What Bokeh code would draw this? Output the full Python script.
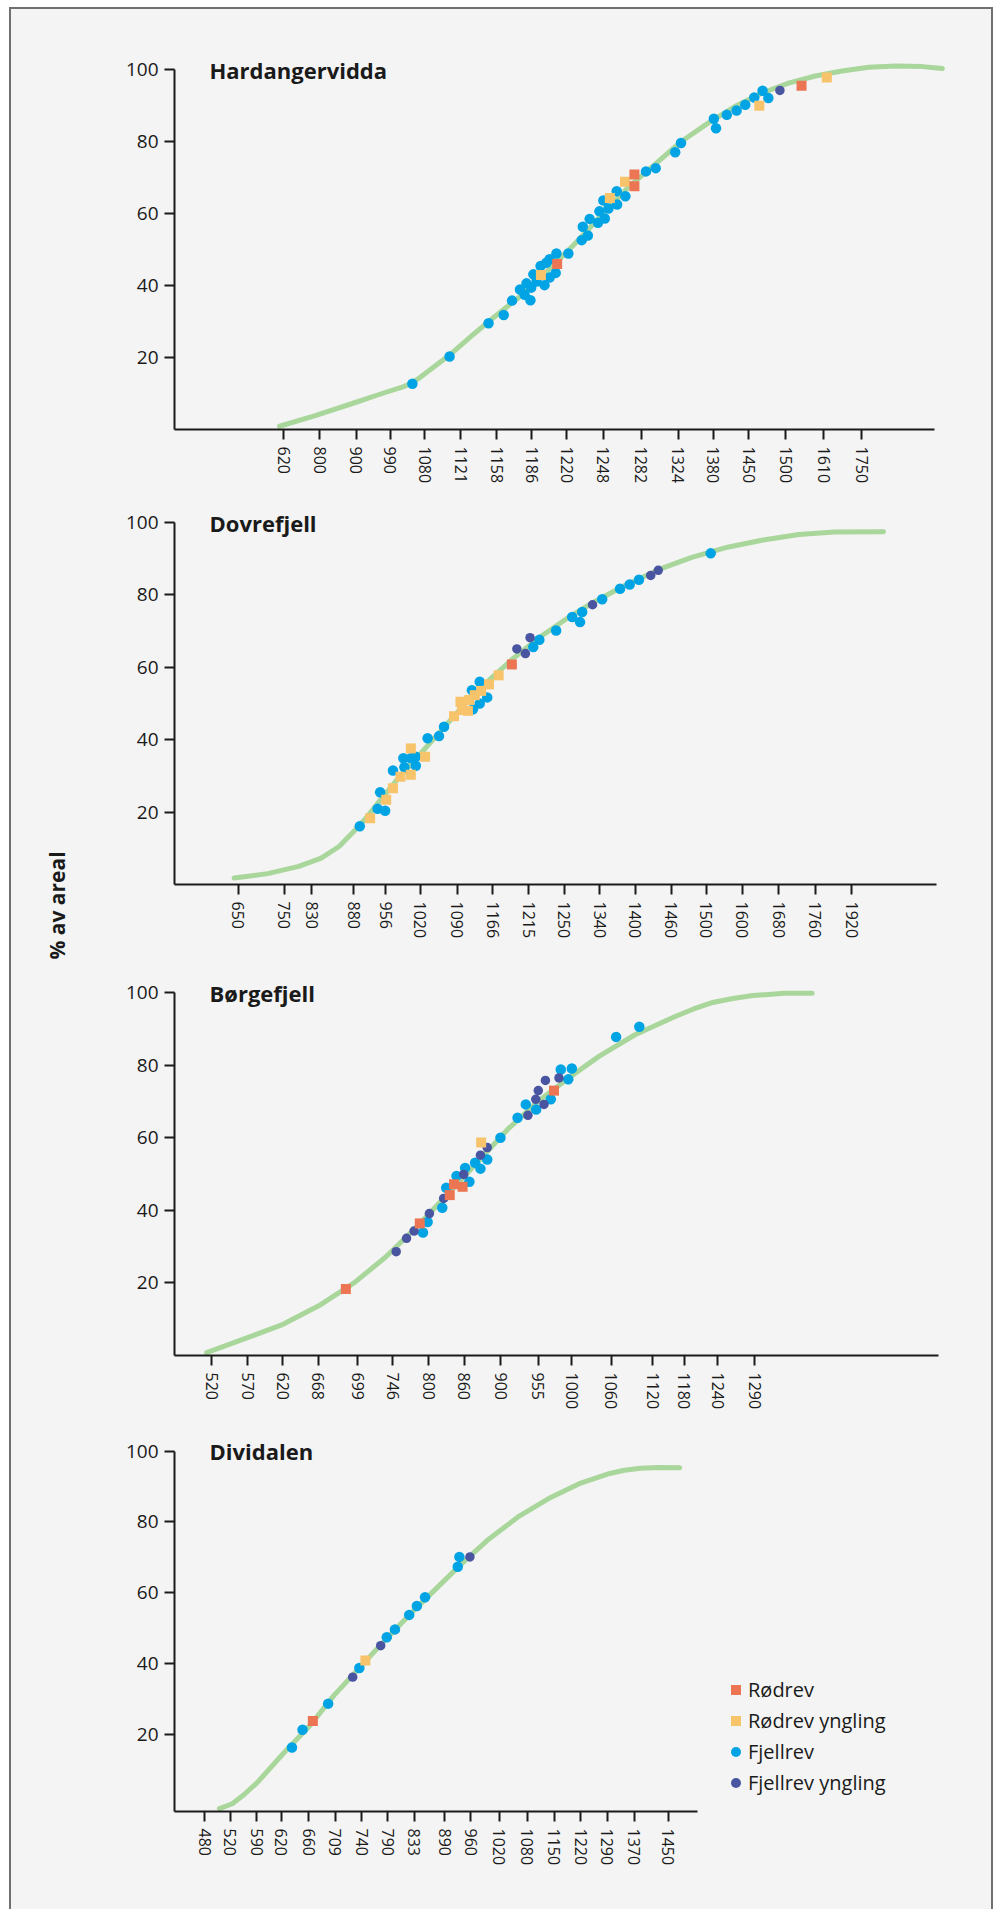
import math
from bokeh.plotting import figure
from bokeh.models import Range1d, FixedTicker, Label, Legend, LegendItem, Spacer
from bokeh.layouts import row, column
from bokeh.embed import file_html
from bokeh.resources import INLINE
from bokeh.core.properties import value

# ---------------- data ----------------
# x values are positions along each panel's (non-linear) altitude axis, in tick-slot units
series_names = ["Rødrev", "Rødrev yngling", "Fjellrev", "Fjellrev yngling"]

# Hardangervidda
hard_ticks = [0, 0.99, 2.0, 2.945, 3.9, 4.9, 5.89, 6.87, 7.84, 8.85, 9.9, 10.92, 11.9, 12.88, 13.9, 14.95, 16.01]
hard_labels = ["620", "800", "900", "990", "1080", "1121", "1158", "1186", "1220", "1248", "1282", "1324",
               "1380", "1450", "1500", "1610", "1750"]
hard_curve_x = [-0.12, 0.87, 1.98, 2.72, 3.34, 3.54, 3.75, 3.96, 4.58, 5.2, 5.81, 6.56, 7.3, 8.04, 8.78, 9.52,
                10.27, 11.01, 11.75, 12.49, 13.23, 13.98, 14.72, 15.46, 16.2, 16.94, 17.69, 18.24]
hard_curve_y = [0.9, 3.85, 7.5, 10.0, 12.0, 12.9, 14.3, 15.9, 20.6, 26.0, 31.1, 37.1, 44.0, 51.4, 59.3, 67.1,
                73.6, 80.0, 85.1, 89.7, 93.4, 96.2, 98.2, 99.6, 100.6, 101.0, 100.8, 100.3]
hard_fjell_x = [3.56, 4.59, 5.67, 6.09, 6.32, 6.54, 6.67, 6.72, 6.83, 6.85, 6.91, 7.0, 7.11, 7.22, 7.27, 7.36,
                7.36, 7.53, 7.55, 7.88, 8.25, 8.28, 8.42, 8.47, 8.7, 8.74, 8.89, 8.85, 8.99, 9.23, 9.22, 9.46,
                10.03, 10.3, 10.84, 11.0, 11.91, 11.97, 12.27, 12.54, 12.78, 13.03, 13.26, 13.42]
hard_fjell_y = [12.7, 20.3, 29.5, 31.8, 35.8, 38.9, 37.4, 40.6, 35.9, 39.4, 43.1, 41.1, 45.4, 40.1, 46.3, 47.3,
                42.2, 43.5, 48.9, 48.9, 52.6, 56.3, 53.9, 58.5, 57.4, 60.6, 58.6, 63.6, 61.4, 62.5, 66.2, 64.8,
                71.7, 72.6, 77.0, 79.6, 86.3, 83.7, 87.4, 88.6, 90.2, 92.2, 94.1, 92.1]
hard_fjellyng_x = [13.74]
hard_fjellyng_y = [94.2]
hard_rod_x = [7.57, 9.71, 9.71, 14.34]
hard_rod_y = [46.0, 70.8, 67.6, 95.5]
hard_rodyng_x = [7.12, 9.03, 9.45, 13.17, 15.04]
hard_rodyng_y = [42.9, 64.3, 68.8, 89.9, 97.8]

# Dovrefjell
dovre_ticks = [0, 1.29, 2.05, 3.23, 4.13, 5.1, 6.13, 7.13, 8.13, 9.13, 10.12, 11.12, 12.12, 13.11, 14.12,
               15.13, 16.16, 17.18]
dovre_labels = ["650", "750", "830", "880", "956", "1020", "1090", "1166", "1215", "1250", "1340", "1400",
                "1460", "1500", "1600", "1680", "1760", "1920"]
dovre_curve_x = [-0.12, 0.82, 1.69, 2.32, 2.82, 3.19, 3.57, 3.94, 4.44, 4.94, 5.44, 5.94, 6.45, 7.07, 7.69,
                 8.45, 9.2, 9.95, 10.82, 11.82, 12.7, 13.7, 14.7, 15.7, 16.7, 18.07]
dovre_curve_y = [1.8, 3.0, 5.0, 7.3, 10.5, 14.2, 18.3, 22.9, 28.9, 34.4, 39.9, 45.4, 51.0, 56.9, 62.4,
                 68.4, 73.5, 78.0, 82.6, 87.2, 90.4, 93.2, 95.2, 96.7, 97.4, 97.5]
dovre_fjell_x = [3.40, 3.9, 4.11, 3.97, 4.33, 4.62, 4.65, 4.83, 4.97, 4.97, 5.3, 5.62, 5.76, 6.54, 6.76, 6.57,
                 6.76, 6.97, 8.26, 8.43, 8.9, 9.35, 9.63, 9.57, 10.19, 10.69, 10.96, 11.22, 13.23]
dovre_fjell_y = [16.1, 20.9, 20.4, 25.5, 31.5, 34.9, 32.4, 34.9, 35.3, 32.8, 40.4, 41.0, 43.6, 53.7, 56.0, 48.4,
                 50.0, 51.7, 65.6, 67.6, 70.2, 73.9, 75.3, 72.5, 78.8, 81.7, 82.9, 84.2, 91.5]
dovre_fjellyng_x = [7.8, 8.04, 8.17, 9.92, 11.55, 11.76]
dovre_fjellyng_y = [65.1, 63.8, 68.2, 77.3, 85.4, 86.8]
dovre_rod_x = [7.66]
dovre_rod_y = [60.8]
dovre_rodyng_x = [3.69, 4.14, 4.33, 4.54, 4.83, 4.83, 5.23, 6.04, 6.22, 6.26, 6.43, 6.47, 6.62, 6.8, 7.02, 7.29]
dovre_rodyng_y = [18.3, 23.4, 26.6, 29.8, 30.3, 37.6, 35.3, 46.5, 50.5, 48.2, 48.0, 51.0, 52.3, 53.5, 55.3, 57.8]

# Børgefjell
borge_ticks = [0, 1.01, 1.99, 2.99, 4.1, 5.08, 6.08, 7.08, 8.1, 9.15, 10.09, 11.19, 12.35, 13.24, 14.18, 15.22]
borge_labels = ["520", "570", "620", "668", "699", "746", "800", "860", "900", "955", "1000", "1060", "1120",
                "1180", "1240", "1290"]
borge_curve_x = [-0.14, 1.14, 2.0, 3.0, 4.0, 4.86, 5.72, 6.57, 7.43, 8.29, 9.15, 10.0, 10.86, 11.86, 13.0,
                 13.5, 14.0, 14.6, 15.16, 16.04, 16.82]
borge_curve_y = [0.8, 5.4, 8.6, 13.7, 20.1, 27.0, 35.2, 44.0, 53.1, 62.3, 70.1, 76.5, 82.5, 88.4, 93.5,
                 95.5, 97.2, 98.4, 99.2, 99.8, 99.8]
borge_fjell_x = [5.92, 6.05, 6.46, 6.57, 6.86, 7.1, 7.22, 7.38, 7.53, 7.72, 8.09, 8.57, 8.8, 9.09, 9.5, 9.78,
                 9.99, 10.09, 11.33, 11.98]
borge_fjell_y = [33.9, 36.8, 40.7, 46.2, 49.5, 51.7, 47.9, 53.1, 51.5, 54.0, 60.0, 65.5, 69.2, 67.8, 70.6, 78.8,
                 76.1, 79.1, 87.8, 90.6]
borge_fjellyng_x = [5.17, 5.46, 5.67, 6.1, 6.5, 7.06, 7.53, 7.72, 8.86, 9.08, 9.15, 9.31, 9.35, 9.73]
borge_fjellyng_y = [28.6, 32.3, 34.3, 39.1, 43.3, 49.9, 55.2, 57.3, 66.2, 70.6, 73.0, 69.2, 75.8, 76.5]
borge_rod_x = [3.76, 5.83, 6.67, 6.79, 7.03, 9.59]
borge_rod_y = [18.3, 36.4, 44.2, 47.2, 46.5, 73.0]
borge_rodyng_x = [7.55]
borge_rodyng_y = [58.7]

# Dividalen
divi_ticks = [0, 0.97, 1.97, 2.9, 3.94, 4.95, 5.95, 6.93, 7.95, 9.09, 10.09, 11.17, 12.22, 13.24, 14.24,
              15.25, 16.27, 17.57]
divi_labels = ["480", "520", "590", "620", "660", "709", "740", "790", "833", "890", "960", "1020", "1080",
               "1150", "1220", "1290", "1370", "1450"]
divi_curve_x = [0.56, 1.05, 1.5, 2.01, 2.98, 4.0, 4.91, 5.9, 6.85, 7.81, 8.78, 9.74, 10.71, 11.87, 13.03, 14.19,
                15.35, 15.9, 16.51, 17.2, 18.0]
divi_curve_y = [-1.1, 0.3, 2.9, 6.4, 14.5, 22.5, 31.0, 39.0, 46.7, 54.1, 61.2, 68.2, 74.8, 81.4, 86.6, 90.8,
                93.7, 94.6, 95.2, 95.4, 95.3]
divi_fjell_x = [3.31, 3.71, 4.68, 5.86, 6.9, 7.21, 7.75, 8.04, 8.35, 9.59, 9.65]
divi_fjell_y = [16.2, 21.2, 28.6, 38.7, 47.4, 49.6, 53.7, 56.2, 58.7, 67.3, 70.1]
divi_fjellyng_x = [5.61, 6.67, 10.05]
divi_fjellyng_y = [36.1, 45.0, 70.1]
divi_rod_x = [4.1]
divi_rod_y = [23.7]
divi_rodyng_x = [6.09]
divi_rodyng_y = [40.8]

y_ticks = [20, 40, 60, 80, 100]
y_axis_title = "% av areal"

# ---------------- style ----------------
BG = "#f4f4f4"
INK = "#1a1a1a"
GREEN = "#a9d69b"
C_ROD = "#ec7553"
C_RODYNG = "#f7c46c"
C_FJELL = "#00a4e4"
C_FJELLYNG = "#4a55a2"
FONT = "Open Sans"
FIG_W = 890
B_LEFT = 73
B_RIGHT = 18


def make_panel(title, ticks, labels, cx, cy, fx, fy, fyx, fyy, rx, ry, ryx, ryy,
               x_start, px_per_unit, axis_end, y_start, height, b_top, b_bottom, legend=False):
    frame_w = FIG_W - B_LEFT - B_RIGHT
    p = figure(width=FIG_W, height=height,
               x_range=Range1d(x_start, x_start + frame_w / px_per_unit),
               y_range=Range1d(y_start, 105),
               output_backend="svg", toolbar_location=None,
               min_border_left=B_LEFT, min_border_right=B_RIGHT, min_border_top=b_top, min_border_bottom=b_bottom,
               background_fill_color=BG, border_fill_color=BG, outline_line_color=None)
    p.grid.visible = False

    p.line(cx, cy, line_width=5, line_color=GREEN, line_cap="round", line_join="round")
    r_fj = p.scatter(fx, fy, marker="circle", size=10.5, fill_color=C_FJELL, line_color=None)
    r_fjy = p.scatter(fyx, fyy, marker="circle", size=9.5, fill_color=C_FJELLYNG, line_color=None)
    r_ry = p.scatter(ryx, ryy, marker="square", size=10, fill_color=C_RODYNG, line_color=None)
    r_r = p.scatter(rx, ry, marker="square", size=10, fill_color=C_ROD, line_color=None)

    xa = p.xaxis[0]
    xa.ticker = FixedTicker(ticks=ticks)
    xa.major_label_overrides = {t: l for t, l in zip(ticks, labels)}
    xa.major_label_orientation = "vertical"
    xa.bounds = (x_start, axis_end)
    ya = p.yaxis[0]
    ya.ticker = FixedTicker(ticks=y_ticks)
    ya.bounds = (y_start, 100)
    for ax in (xa, ya):
        ax.axis_line_width = 2
        ax.axis_line_color = INK
        ax.major_tick_line_width = 2
        ax.major_tick_line_color = INK
        ax.major_tick_out = 10
        ax.major_tick_in = 0
        ax.minor_tick_out = 0
        ax.minor_tick_in = 0
        ax.major_label_text_font = FONT
        ax.major_label_text_color = INK
    xa.major_label_text_font_size = "16px"
    xa.major_label_standoff = 7
    ya.major_label_text_font_size = "19px"
    ya.major_label_standoff = 6

    p.add_layout(Label(x=x_start, y=100, x_offset=35, text=title, text_font=FONT, text_font_style="bold",
                       text_font_size="22px", text_color=INK, text_baseline="middle"))

    if legend:
        lg = Legend(items=[LegendItem(label=series_names[0], renderers=[r_r]),
                           LegendItem(label=series_names[1], renderers=[r_ry]),
                           LegendItem(label=series_names[2], renderers=[r_fj]),
                           LegendItem(label=series_names[3], renderers=[r_fjy])],
                    location=(549, 15), orientation="vertical",
                    glyph_width=25, glyph_height=25, label_standoff=-3, spacing=4,
                    padding=0, margin=0, border_line_color=None, background_fill_alpha=0,
                    label_text_font=FONT, label_text_font_size="20px", label_text_color=INK)
        p.add_layout(lg)
    return p


p1 = make_panel("Hardangervidda", hard_ticks, hard_labels, hard_curve_x, hard_curve_y,
                hard_fjell_x, hard_fjell_y, hard_fjellyng_x, hard_fjellyng_y,
                hard_rod_x, hard_rod_y, hard_rodyng_x, hard_rodyng_y,
                -3.03, 36.1, 18.02, 0, 477, 42, 56)
p2 = make_panel("Dovrefjell", dovre_ticks, dovre_labels, dovre_curve_x, dovre_curve_y,
                dovre_fjell_x, dovre_fjell_y, dovre_fjellyng_x, dovre_fjellyng_y,
                dovre_rod_x, dovre_rod_y, dovre_rodyng_x, dovre_rodyng_y,
                -1.79, 35.7, 19.55, 0, 455, 18, 56)
p3 = make_panel("Børgefjell", borge_ticks, borge_labels, borge_curve_x, borge_curve_y,
                borge_fjell_x, borge_fjell_y, borge_fjellyng_x, borge_fjellyng_y,
                borge_rod_x, borge_rod_y, borge_rodyng_x, borge_rodyng_y,
                -1.04, 35.7, 20.36, 0, 471, 33, 56)
p4 = make_panel("Dividalen", divi_ticks, divi_labels, divi_curve_x, divi_curve_y,
                divi_fjell_x, divi_fjell_y, divi_fjellyng_x, divi_fjellyng_y,
                divi_rod_x, divi_rod_y, divi_rodyng_x, divi_rodyng_y,
                -1.14, 26.4, 18.67, -1.9, 497, 21, 98, legend=True)

TOTAL_H = 477 + 455 + 471 + 497
lab = figure(width=90, height=TOTAL_H, x_range=Range1d(0, 90), y_range=Range1d(TOTAL_H, 0),
             output_backend="svg", toolbar_location=None, x_axis_location=None, y_axis_location=None,
             min_border=0, background_fill_color=BG, border_fill_color=BG, outline_line_color=None)
lab.grid.visible = False
lab.text(x=[45.7], y=[896], text=[y_axis_title], angle=math.pi / 2, text_align="center",
         text_baseline="middle", text_font=value(FONT), text_font_style="bold",
         text_font_size="21px", text_color=INK)

framed = row(lab, column(p1, p2, p3, p4))
framed.styles = {"border-top": "2px solid #707070", "border-left": "2px solid #707070",
                 "border-right": "2px solid #707070", "background-color": BG}

page = column(Spacer(width=10, height=7), row(Spacer(width=9, height=10), framed))

open("out.html", "w").write(file_html(page, INLINE))
